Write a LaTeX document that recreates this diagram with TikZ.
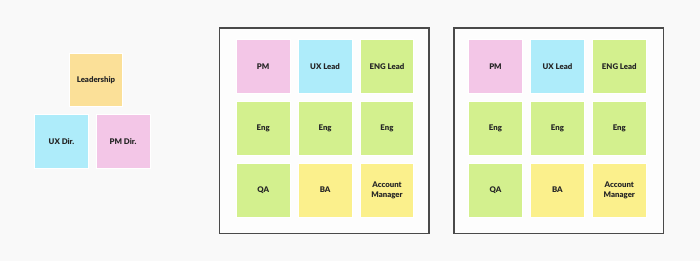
\documentclass[tikz,border=0pt]{standalone}
\usepackage{fontspec}
\setmainfont{Lato}
\newfontfamily\stickyfont{Lato Black}
\usepackage{tikz}
\usetikzlibrary{positioning}

\definecolor{bgcol}{HTML}{F9F9F9}
\definecolor{leadcol}{HTML}{FBE098}
\definecolor{uxcol}{HTML}{AEECFA}
\definecolor{pmcol}{HTML}{F3C6E7}
\definecolor{engcol}{HTML}{D3F08E}
\definecolor{bizcol}{HTML}{FBF08C}
\definecolor{framecol}{HTML}{4A4A4A}

\tikzset{
  sticky/.style={minimum size=53.5pt, inner sep=0pt, align=center,
    draw=white, line width=0.6pt,
    font=\stickyfont\fontsize{7.8}{9.6}\selectfont, text=black!85},
  squadframe/.style={draw=framecol, line width=1.4pt, fill=white!60!bgcol}
}

\begin{document}
\begin{tikzpicture}[x=1pt,y=-1pt]
\fill[bgcol] (0,0) rectangle (700,261);
\useasboundingbox (0,0) rectangle (700,261);

% leadership group
\node[sticky, fill=leadcol] (lead) at (96,80) {Leadership};
\node[sticky, fill=uxcol] (uxdir) at (61.5,141.5) {UX Dir.};
\node[sticky, fill=pmcol, right=7.5pt of uxdir] (pmdir) {PM Dir.};

% squad one
\draw[squadframe] (219.7,28) rectangle (429,233.3);
\node[sticky, fill=pmcol] (pmA) at (263.2,66.5) {PM};
\node[sticky, fill=uxcol, right=7.8pt of pmA] (uxA) {UX Lead};
\node[sticky, fill=engcol, right=7.8pt of uxA] (englA) {ENG Lead};
\node[sticky, fill=engcol, below=7.7pt of pmA] (engA1) {Eng};
\node[sticky, fill=engcol, below=7.7pt of uxA] (engA2) {Eng};
\node[sticky, fill=engcol, below=7.7pt of englA] (engA3) {Eng};
\node[sticky, fill=engcol, below=7.7pt of engA1] (qaA) {QA};
\node[sticky, fill=bizcol, below=7.7pt of engA2] (baA) {BA};
\node[sticky, fill=bizcol, below=7.7pt of engA3] (amA) {Account\\Manager};

% squad two
\draw[squadframe] (454,28) rectangle (663.3,233.3);
\node[sticky, fill=pmcol] (pmB) at (495.5,66.5) {PM};
\node[sticky, fill=uxcol, right=7.8pt of pmB] (uxB) {UX Lead};
\node[sticky, fill=engcol, right=7.8pt of uxB] (englB) {ENG Lead};
\node[sticky, fill=engcol, below=7.7pt of pmB] (engB1) {Eng};
\node[sticky, fill=engcol, below=7.7pt of uxB] (engB2) {Eng};
\node[sticky, fill=engcol, below=7.7pt of englB] (engB3) {Eng};
\node[sticky, fill=engcol, below=7.7pt of engB1] (qaB) {QA};
\node[sticky, fill=bizcol, below=7.7pt of engB2] (baB) {BA};
\node[sticky, fill=bizcol, below=7.7pt of engB3] (amB) {Account\\Manager};
\end{tikzpicture}
\end{document}
